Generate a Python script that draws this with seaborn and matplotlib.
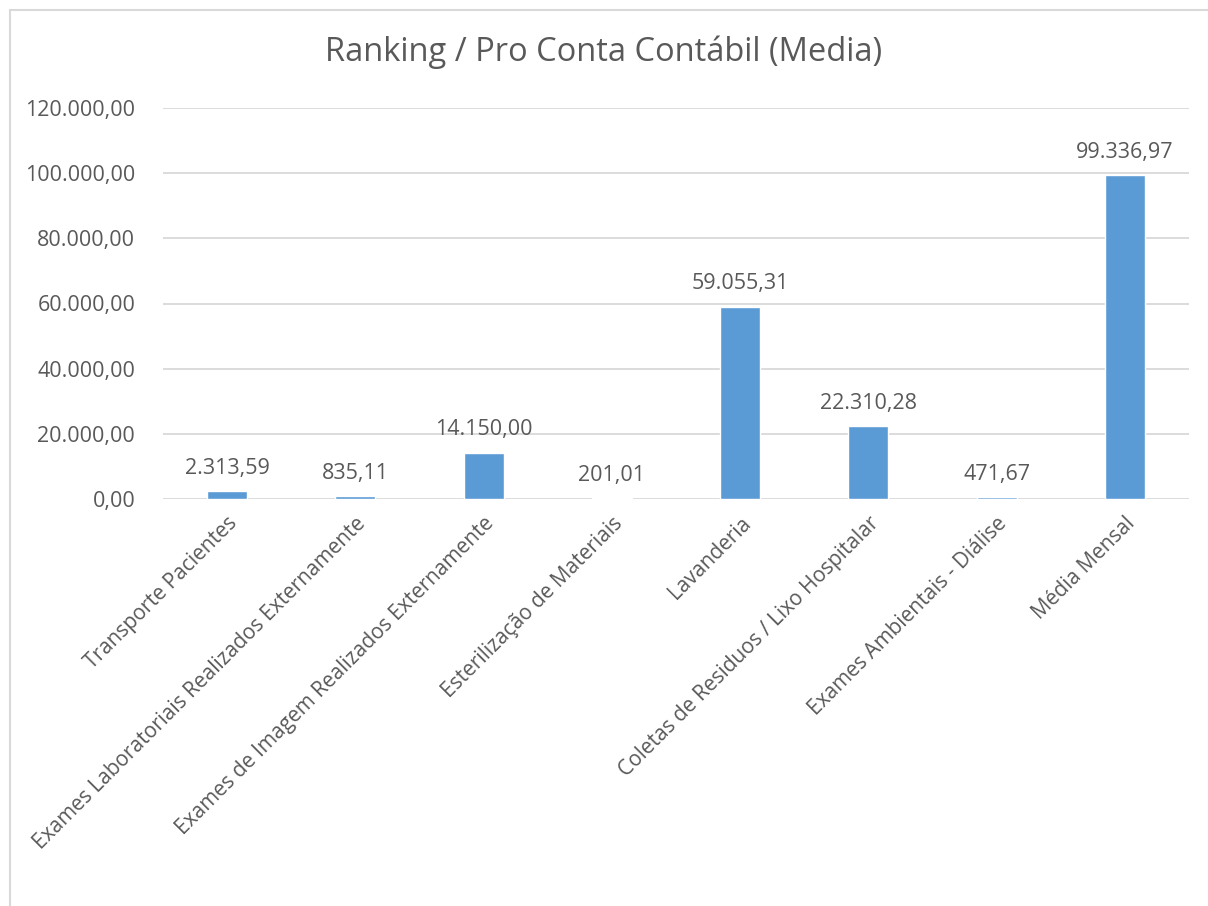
import matplotlib
matplotlib.use('Agg')
import matplotlib.pyplot as plt
import seaborn as sns
import pandas as pd
from matplotlib.lines import Line2D
from matplotlib.ticker import FuncFormatter, MultipleLocator

categories = [
    'Transporte Pacientes',
    'Exames Laboratoriais Realizados Externamente',
    'Exames de Imagem Realizados Externamente',
    'Esterilização de Materiais',
    'Lavanderia',
    'Coletas de Residuos / Lixo Hospitalar',
    'Exames Ambientais - Diálise',
    'Média Mensal',
]
values = [2313.59, 835.11, 14150.00, 201.01, 59055.31, 22310.28, 471.67, 99336.97]

TEXT = '#595959'
GRID = '#D9D9D9'
BAR = '#5B9BD5'


def fmt_br(v, pos=None):
    s = f"{v:,.2f}"
    return s.replace(',', '#').replace('.', ',').replace('#', '.')


sns.set_theme(style='white')
plt.rcParams['font.family'] = ['Open Sans', 'DejaVu Sans']

df = pd.DataFrame({'conta': categories, 'valor': values})

W, H = 1208, 906
fig = plt.figure(figsize=(W / 100, H / 100), dpi=100)
ax = fig.add_axes([163 / W, 1 - 499 / H, (1189 - 163) / W, (499 - 108) / H])

sns.barplot(data=df, x='conta', y='valor', color=BAR, width=0.31,
            saturation=1, ax=ax)

ax.set_ylim(0, 120000)
ax.yaxis.set_major_locator(MultipleLocator(20000))
ax.yaxis.set_major_formatter(FuncFormatter(fmt_br))
ax.grid(axis='y', color=GRID, linewidth=1.3)
ax.set_axisbelow(True)
for sp in ax.spines.values():
    sp.set_visible(False)
ax.tick_params(axis='both', length=0, colors=TEXT, labelsize=15.5)
ax.tick_params(axis='y', pad=20)
ax.tick_params(axis='x', pad=10)
ax.set_xlabel('')
ax.set_ylabel('')
ax.set_xticks(range(len(categories)))
ax.set_xticklabels(categories, rotation=45, ha='right', va='top',
                   rotation_mode='anchor', color=TEXT, fontsize=15)

for i, v in enumerate(values):
    ax.annotate(fmt_br(v), (i, v), xytext=(0, 9), textcoords='offset points',
                ha='center', va='bottom', color=TEXT, fontsize=15.5)

fig.text(0.5, 1 - 52 / H, 'Ranking / Pro Conta Contábil (Media)',
         ha='center', va='center', color=TEXT, fontsize=23.5)

# chart area border (left and top edges visible)
fig.add_artist(Line2D([9.5 / W, 9.5 / W], [0, 1 - 10 / H], transform=fig.transFigure,
                      color=GRID, linewidth=1.5))
fig.add_artist(Line2D([9.5 / W, 1], [1 - 10 / H, 1 - 10 / H], transform=fig.transFigure,
                      color=GRID, linewidth=1.5))

plt.savefig('out.png', dpi=100, facecolor='white')
plt.close()
